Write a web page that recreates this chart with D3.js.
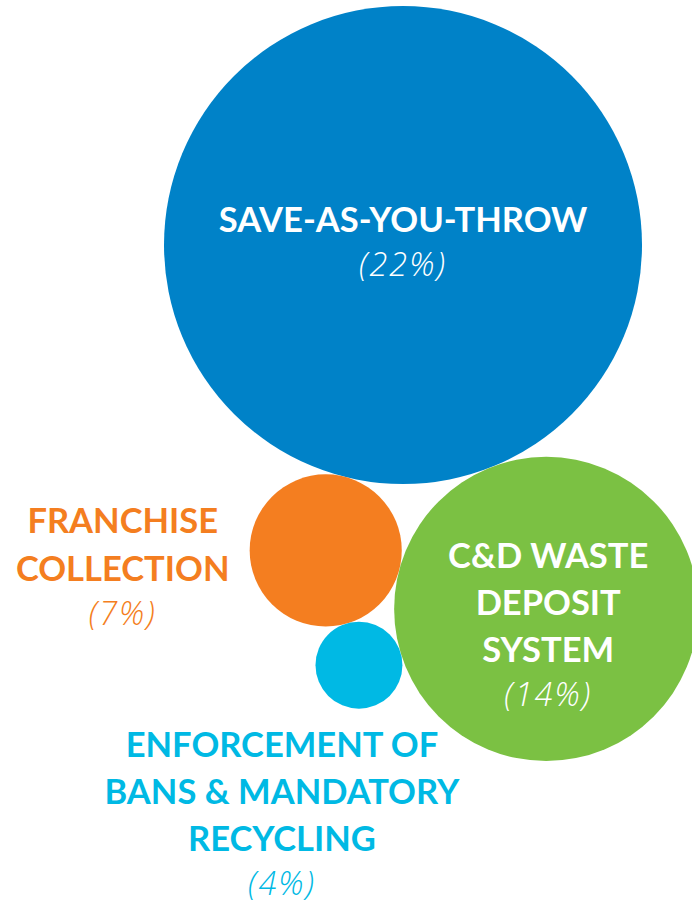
<!DOCTYPE html>
<html>
<head>
<meta charset="utf-8">
<script src="https://cdn.jsdelivr.net/npm/d3@7"></script>
<style>
  html, body { margin: 0; padding: 0; background: #fff; }
  svg { display: block; }
</style>
</head>
<body>
<div id="chart"></div>
<script>
// data
const categories = ["SAVE-AS-YOU-THROW", "FRANCHISE COLLECTION", "C&D WASTE DEPOSIT SYSTEM", "ENFORCEMENT OF BANS & MANDATORY RECYCLING"];
const labelLines = [
  ["SAVE-AS-YOU-THROW"],
  ["FRANCHISE", "COLLECTION"],
  ["C&D WASTE", "DEPOSIT", "SYSTEM"],
  ["ENFORCEMENT OF", "BANS & MANDATORY", "RECYCLING"]
];
const values = [22, 7, 14, 4];
const colors = ["#0082c8", "#f47e20", "#7bc143", "#00b9e4"];

const width = 692, height = 903;

// radius grows linearly with the share
const r = d3.scaleLinear().domain([0, 22]).range([0, 239]);

// centre of a circle of radius rc that touches circles a and b
function touching(a, b, rc, side) {
  const dx = b.x - a.x, dy = b.y - a.y;
  const D = Math.hypot(dx, dy);
  const d1 = a.r + rc, d2 = b.r + rc;
  const along = (d1 * d1 - d2 * d2 + D * D) / (2 * D);
  const h = Math.sqrt(Math.max(0, d1 * d1 - along * along));
  const ux = dx / D, uy = dy / D;
  return {
    x: a.x + along * ux - side * h * uy,
    y: a.y + along * uy + side * h * ux
  };
}

const nodes = values.map((v, i) => ({ i, value: v, r: r(v) }));
const [big, orange, green, cyan] = nodes;
big.x = 403; big.y = 245;
const ang = 104.2 * Math.PI / 180;
orange.x = big.x + (big.r + orange.r) * Math.cos(ang);
orange.y = big.y + (big.r + orange.r) * Math.sin(ang);
Object.assign(green, touching(big, orange, green.r, -1));
Object.assign(cyan, touching(orange, green, cyan.r, 1));

// where each label block starts, relative to its circle
const labelPos = [
  { dx: 0, dy: -13, lh: 46, fill: "#fff" },
  { dx: -203, dy: -17, lh: 48, fill: colors[1] },
  { dx: 2, dy: -41, lh: 47, fill: "#fff" },
  { dx: -77, dy: 92, lh: 47, fill: colors[3] }
];

const svg = d3.select("#chart").append("svg")
  .attr("width", width)
  .attr("height", height);

svg.append("g").selectAll("circle")
  .data(nodes)
  .join("circle")
  .attr("cx", d => d.x)
  .attr("cy", d => d.y)
  .attr("r", d => d.r)
  .attr("fill", d => colors[d.i]);

const labels = svg.append("g")
  .attr("text-anchor", "middle")
  .selectAll("text")
  .data(nodes)
  .join("text")
  .attr("fill", d => labelPos[d.i].fill);

labels.each(function(d) {
  const t = d3.select(this);
  const p = labelPos[d.i];
  const x = d.x + p.dx, y0 = d.y + p.dy;
  labelLines[d.i].forEach((line, k) => {
    t.append("tspan")
      .attr("x", x)
      .attr("y", y0 + k * p.lh)
      .attr("font-family", "Lato, sans-serif")
      .attr("font-size", 34.5)
      .attr("font-weight", 700)
      .text(line);
  });
  t.append("tspan")
    .attr("x", x)
    .attr("y", y0 + (labelLines[d.i].length - 1) * p.lh + 44)
    .attr("font-family", "'Open Sans', sans-serif")
    .attr("font-size", 32.5)
    .attr("font-weight", 300)
    .attr("font-style", "italic")
    .attr("letter-spacing", 2)
    .text(`(${d.value}%)`);
});
</script>
</body>
</html>
